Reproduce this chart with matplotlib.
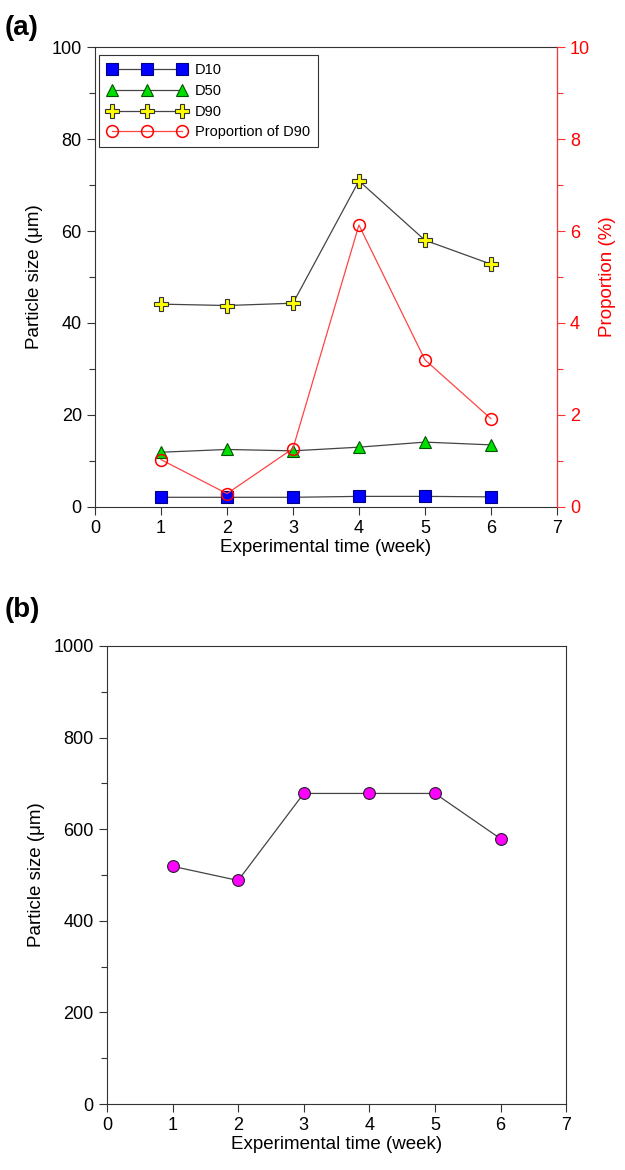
import matplotlib
matplotlib.use("Agg")
import matplotlib.pyplot as plt
from matplotlib.ticker import MultipleLocator

plt.rcParams['font.family'] = ['Liberation Sans', 'DejaVu Sans']

weeks = [1, 2, 3, 4, 5, 6]
d10 = [2.1, 2.1, 2.1, 2.3, 2.3, 2.2]
d50 = [11.9, 12.5, 12.2, 13.0, 14.1, 13.5]
d90 = [44.1, 43.8, 44.3, 70.9, 58.0, 52.8]
prop_d90 = [1.03, 0.29, 1.27, 6.13, 3.2, 1.92]
size_b = [519, 488, 678, 678, 678, 579]

fig = plt.figure(figsize=(6.25, 11.7), dpi=100)

# panel (a)
ax = fig.add_axes([0.152, 0.5667, 0.739, 0.3931])
ax.plot(weeks, d10, color='#444444', lw=0.9, marker='s', ms=8.5,
        mfc='#0000ff', mec='#000080', mew=0.8, label='D10')
ax.plot(weeks, d50, color='#444444', lw=0.9, marker='^', ms=8.5,
        mfc='#00dd00', mec='#005500', mew=0.8, label='D50')
ax.plot(weeks, d90, color='#444444', lw=0.9, marker='P', ms=9.5,
        mfc='#ffff00', mec='#333333', mew=0.8, label='D90')
ax2 = ax.twinx()
ax2.plot(weeks, prop_d90, color='#ff4444', lw=0.9, marker='o', ms=8.5,
         mfc='none', mec='#ff0000', mew=1.1, label='Proportion of D90')

ax.set_xlim(0, 7)
ax.set_ylim(0, 100)
ax2.set_ylim(0, 10)
ax.xaxis.set_major_locator(MultipleLocator(1))
ax.yaxis.set_major_locator(MultipleLocator(20))
ax.yaxis.set_minor_locator(MultipleLocator(10))
ax2.yaxis.set_major_locator(MultipleLocator(2))
ax2.yaxis.set_minor_locator(MultipleLocator(1))
ax.tick_params(direction='out', labelsize=13, length=6, width=0.8, colors='#333333', labelcolor='black')
ax.tick_params(which='minor', direction='out', length=4, width=0.8, colors='#333333')
ax2.tick_params(direction='out', labelsize=13, length=6, width=0.8, colors='#ff3333', labelcolor='#ff0000')
ax2.tick_params(which='minor', direction='out', length=4, width=0.8, colors='#ff3333')
ax2.spines['right'].set_color('#ff3333')
for s in ['left', 'bottom', 'top']:
    ax.spines[s].set_color('#333333')
    ax2.spines[s].set_visible(False)
ax.set_xlabel('Experimental time (week)', fontsize=13.5, labelpad=1)
ax.set_ylabel('Particle size (\u03bcm)', fontsize=13.5, labelpad=6)
ax2.set_ylabel('Proportion (%)', fontsize=13.5, color='#ff0000', labelpad=6)

h1, l1 = ax.get_legend_handles_labels()
h2, l2 = ax2.get_legend_handles_labels()
leg = ax2.legend(h1 + h2, l1 + l2, loc='upper left', numpoints=3, fontsize=10.5,
                 fancybox=False, edgecolor='#333333', framealpha=1,
                 bbox_to_anchor=(0.003, 0.988), handlelength=5.4, labelspacing=0.45,
                 handletextpad=0.6, borderpad=0.55, borderaxespad=0.2)
leg.get_frame().set_linewidth(0.8)
fig.text(0.008, 0.976, '(a)', fontsize=20, fontweight='bold', va='center')

# panel (b)
bx = fig.add_axes([0.171, 0.0564, 0.735, 0.3915])
bx.plot(weeks, size_b, color='#444444', lw=0.9, marker='o', ms=8.5,
        mfc='#ff00ff', mec='#222222', mew=0.8)
bx.set_xlim(0, 7)
bx.set_ylim(0, 1000)
bx.xaxis.set_major_locator(MultipleLocator(1))
bx.yaxis.set_major_locator(MultipleLocator(200))
bx.yaxis.set_minor_locator(MultipleLocator(100))
bx.tick_params(direction='out', labelsize=13, length=6, width=0.8, colors='#333333', labelcolor='black')
bx.tick_params(which='minor', direction='out', length=4, width=0.8, colors='#333333')
for s in bx.spines.values():
    s.set_color('#333333')
bx.set_xlabel('Experimental time (week)', fontsize=13.5, labelpad=1)
bx.set_ylabel('Particle size (\u03bcm)', fontsize=13.5, labelpad=6)
fig.text(0.008, 0.479, '(b)', fontsize=20, fontweight='bold', va='center')

fig.savefig('out.png', dpi=100)
